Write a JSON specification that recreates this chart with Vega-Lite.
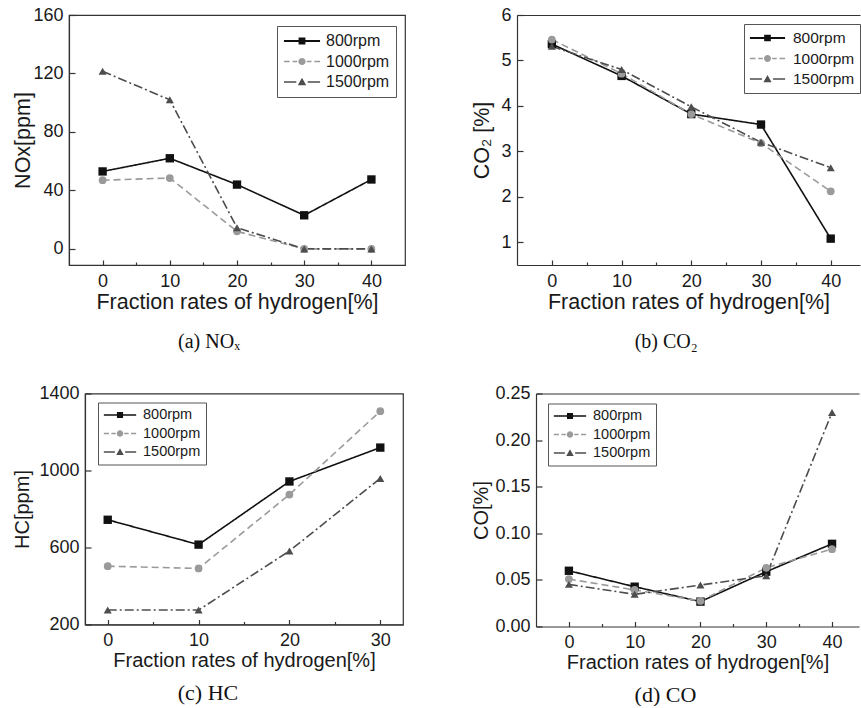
{
  "$schema": "https://vega.github.io/schema/vega-lite/v6.json",
  "padding": {"left": 11, "top": 5, "right": 0, "bottom": 0},
  "background": "white",
  "datasets": {
    "nox": [
      {"h": 0, "v": 53, "rpm": "800rpm"}, {"h": 10, "v": 62, "rpm": "800rpm"}, {"h": 20, "v": 44, "rpm": "800rpm"}, {"h": 30, "v": 23, "rpm": "800rpm"}, {"h": 40, "v": 47.5, "rpm": "800rpm"},
      {"h": 0, "v": 47, "rpm": "1000rpm"}, {"h": 10, "v": 48.5, "rpm": "1000rpm"}, {"h": 20, "v": 12, "rpm": "1000rpm"}, {"h": 30, "v": 0, "rpm": "1000rpm"}, {"h": 40, "v": 0, "rpm": "1000rpm"},
      {"h": 0, "v": 121.5, "rpm": "1500rpm"}, {"h": 10, "v": 102, "rpm": "1500rpm"}, {"h": 20, "v": 14.5, "rpm": "1500rpm"}, {"h": 30, "v": 0, "rpm": "1500rpm"}, {"h": 40, "v": 0, "rpm": "1500rpm"}
    ],
    "co2": [
      {"h": 0, "v": 5.36, "rpm": "800rpm"}, {"h": 10, "v": 4.66, "rpm": "800rpm"}, {"h": 20, "v": 3.82, "rpm": "800rpm"}, {"h": 30, "v": 3.59, "rpm": "800rpm"}, {"h": 40, "v": 1.08, "rpm": "800rpm"},
      {"h": 0, "v": 5.46, "rpm": "1000rpm"}, {"h": 10, "v": 4.71, "rpm": "1000rpm"}, {"h": 20, "v": 3.82, "rpm": "1000rpm"}, {"h": 30, "v": 3.18, "rpm": "1000rpm"}, {"h": 40, "v": 2.12, "rpm": "1000rpm"},
      {"h": 0, "v": 5.31, "rpm": "1500rpm"}, {"h": 10, "v": 4.8, "rpm": "1500rpm"}, {"h": 20, "v": 3.98, "rpm": "1500rpm"}, {"h": 30, "v": 3.2, "rpm": "1500rpm"}, {"h": 40, "v": 2.64, "rpm": "1500rpm"}
    ],
    "hc": [
      {"h": 0, "v": 744, "rpm": "800rpm"}, {"h": 10, "v": 615, "rpm": "800rpm"}, {"h": 20, "v": 943, "rpm": "800rpm"}, {"h": 30, "v": 1119, "rpm": "800rpm"},
      {"h": 0, "v": 503, "rpm": "1000rpm"}, {"h": 10, "v": 491, "rpm": "1000rpm"}, {"h": 20, "v": 875, "rpm": "1000rpm"}, {"h": 30, "v": 1308, "rpm": "1000rpm"},
      {"h": 0, "v": 275, "rpm": "1500rpm"}, {"h": 10, "v": 275, "rpm": "1500rpm"}, {"h": 20, "v": 582, "rpm": "1500rpm"}, {"h": 30, "v": 959, "rpm": "1500rpm"}
    ],
    "co": [
      {"h": 0, "v": 0.0598, "rpm": "800rpm"}, {"h": 10, "v": 0.0427, "rpm": "800rpm"}, {"h": 20, "v": 0.0267, "rpm": "800rpm"}, {"h": 30, "v": 0.0588, "rpm": "800rpm"}, {"h": 40, "v": 0.0887, "rpm": "800rpm"},
      {"h": 0, "v": 0.0509, "rpm": "1000rpm"}, {"h": 10, "v": 0.0392, "rpm": "1000rpm"}, {"h": 20, "v": 0.0274, "rpm": "1000rpm"}, {"h": 30, "v": 0.063, "rpm": "1000rpm"}, {"h": 40, "v": 0.083, "rpm": "1000rpm"},
      {"h": 0, "v": 0.0452, "rpm": "1500rpm"}, {"h": 10, "v": 0.0345, "rpm": "1500rpm"}, {"h": 20, "v": 0.0445, "rpm": "1500rpm"}, {"h": 30, "v": 0.0545, "rpm": "1500rpm"}, {"h": 40, "v": 0.2297, "rpm": "1500rpm"}
    ],
    "empty": []
  },
  "columns": 1,
  "align": "none",
  "spacing": 30.5,
  "resolve": {"scale": {"fill": "independent"}, "legend": {"fill": "independent"}},
  "concat": [
    {
      "spacing": 0,
      "resolve": {"scale": {"fill": "independent"}, "legend": {"fill": "independent"}},
      "hconcat": [
        {"width": 1, "height": 1, "data": {"name": "empty"}, "mark": {"type": "point", "opacity": 0}, "encoding": {}, "view": {"stroke": null}},
        {
          "spacing": 65,
          "resolve": {"scale": {"fill": "independent"}, "legend": {"fill": "independent"}},
          "hconcat": [
            {
              "width": 336, "height": 250,
              "data": {"name": "nox"},
              "title": {"text": "(a) NOₓ", "offset": 19, "fontSize": 20},
              "layer": [
                {
                  "mark": {"type": "line"},
                  "encoding": {
                    "x": {"field": "h", "type": "quantitative", "scale": {"domain": [-5, 45], "nice": false, "zero": false},
                      "axis": {"values": [0, 5, 10, 15, 20, 25, 30, 35, 40], "labelExpr": "datum.value % 10 === 0 ? datum.label : ''", "labelOverlap": false, "tickSize": {"condition": {"test": "datum.value % 10 === 0", "value": -5}, "value": -3}, "labelPadding": 12, "title": "Fraction rates of hydrogen[%]", "titleFontSize": 21.5, "titlePadding": -1}},
                    "y": {"field": "v", "type": "quantitative", "scale": {"domain": [-11, 160], "nice": false, "zero": false},
                      "axis": {"values": [0, 10, 20, 30, 40, 50, 60, 70, 80, 90, 100, 110, 120, 130, 140, 150, 160], "labelExpr": "datum.value % 20 === 0 ? datum.label : ''", "labelOverlap": false, "tickSize": {"condition": {"test": "datum.value % 20 === 0", "value": -6}, "value": -3}, "labelPadding": 12, "title": "NOx[ppm]", "titleFontSize": 21.5, "titlePadding": -2}},
                    "stroke": {"field": "rpm", "type": "nominal", "scale": {"range": ["#9a9a9a", "#4d4d4d", "#111111"]}, "legend": null},
                    "strokeDash": {"field": "rpm", "type": "nominal", "scale": {"range": [[7, 4], [9, 3, 2, 3], [1, 0]]}, "legend": null},
                    "strokeWidth": {"field": "rpm", "type": "nominal", "scale": {"range": [1.6, 1.6, 2]}, "legend": null}
                  }
                },
                {
                  "mark": {"type": "point", "filled": true, "opacity": 1},
                  "encoding": {
                    "x": {"field": "h", "type": "quantitative"},
                    "y": {"field": "v", "type": "quantitative"},
                    "shape": {"field": "rpm", "type": "nominal", "scale": {"range": ["circle", "triangle-up", "square"]}, "legend": null},
                    "size": {"field": "rpm", "type": "nominal", "scale": {"range": [60, 70, 49]}, "legend": null},
                    "fill": {"field": "rpm", "type": "nominal", "scale": {"domain": ["800rpm", "1000rpm", "1500rpm"], "range": ["#111111", "#9a9a9a", "#4d4d4d"]},
                      "legend": {"orient": "none", "legendX": 208, "legendY": 11, "symbolSize": 1444, "clipHeight": 18, "rowPadding": 2.5, "padding": 6, "labelFontSize": 16, "labelOffset": 5,
                        "encode": {"symbols": {"update": {"shape": {"signal": "datum.value === '800rpm' ? 'M-0.95,-0.05H0.95V0.05H-0.95Z M-0.18,-0.18H0.18V0.18H-0.18Z' : datum.value === '1000rpm' ? 'M-0.95,-0.04H-0.65V0.04H-0.95Z M-0.5,-0.04H-0.25V0.04H-0.5Z M-0.19,0A0.19,0.19 0 1,0 0.19,0A0.19,0.19 0 1,0 -0.19,0Z M0.25,-0.04H0.5V0.04H0.25Z M0.65,-0.04H0.95V0.04H0.65Z' : 'M-0.95,-0.04H-0.3V0.04H-0.95Z M-0.22,0.17L0,-0.22L0.22,0.17Z M0.3,-0.04H0.95V0.04H0.3Z'"}}}}}}
                  }
                }
              ]
            },
            {
              "width": 343, "height": 250,
              "data": {"name": "co2"},
              "title": {"text": "(b) CO₂", "offset": 19, "fontSize": 20},
              "view": {"stroke": null},
              "resolve": {"axis": {"x": "independent"}},
              "layer": [
                {
                  "mark": {"type": "line"},
                  "encoding": {
                    "x": {"field": "h", "type": "quantitative", "scale": {"domain": [-5, 44.2], "nice": false, "zero": false},
                      "axis": {"values": [0, 5, 10, 15, 20, 25, 30, 35, 40], "labelExpr": "datum.value % 10 === 0 ? datum.label : ''", "labelOverlap": false, "tickSize": {"condition": {"test": "datum.value % 10 === 0", "value": -5}, "value": -3}, "labelPadding": 12, "title": "Fraction rates of hydrogen[%]", "titleFontSize": 21.5, "titlePadding": -1}},
                    "y": {"field": "v", "type": "quantitative", "scale": {"domain": [0.5, 6], "nice": false, "zero": false},
                      "axis": {"values": [1, 1.5, 2, 2.5, 3, 3.5, 4, 4.5, 5, 5.5, 6], "labelExpr": "datum.value % 1 === 0 ? format(datum.value, 'd') : ''", "labelOverlap": false, "tickSize": {"condition": {"test": "datum.value % 1 === 0", "value": -6}, "value": -3}, "labelPadding": 12, "title": "CO₂ [%]", "titleFontSize": 21.5, "titlePadding": 7}},
                    "stroke": {"field": "rpm", "type": "nominal", "scale": {"range": ["#9a9a9a", "#4d4d4d", "#111111"]}, "legend": null},
                    "strokeDash": {"field": "rpm", "type": "nominal", "scale": {"range": [[7, 4], [9, 3, 2, 3], [1, 0]]}, "legend": null},
                    "strokeWidth": {"field": "rpm", "type": "nominal", "scale": {"range": [1.6, 1.6, 2]}, "legend": null}
                  }
                },
                {
                  "mark": {"type": "point", "filled": true, "opacity": 1},
                  "encoding": {
                    "x": {"field": "h", "type": "quantitative", "axis": {"orient": "top", "labels": false, "ticks": false, "domain": true, "title": null, "grid": false}},
                    "y": {"field": "v", "type": "quantitative"},
                    "shape": {"field": "rpm", "type": "nominal", "scale": {"range": ["circle", "triangle-up", "square"]}, "legend": null},
                    "size": {"field": "rpm", "type": "nominal", "scale": {"range": [60, 70, 49]}, "legend": null},
                    "fill": {"field": "rpm", "type": "nominal", "scale": {"domain": ["800rpm", "1000rpm", "1500rpm"], "range": ["#111111", "#9a9a9a", "#4d4d4d"]},
                      "legend": {"orient": "none", "legendX": 227, "legendY": 9, "symbolSize": 1369, "clipHeight": 18, "rowPadding": 2.5, "padding": 5, "labelFontSize": 15.5, "labelOffset": 7,
                        "encode": {"symbols": {"update": {"shape": {"signal": "datum.value === '800rpm' ? 'M-0.95,-0.05H0.95V0.05H-0.95Z M-0.18,-0.18H0.18V0.18H-0.18Z' : datum.value === '1000rpm' ? 'M-0.95,-0.04H-0.65V0.04H-0.95Z M-0.5,-0.04H-0.25V0.04H-0.5Z M-0.19,0A0.19,0.19 0 1,0 0.19,0A0.19,0.19 0 1,0 -0.19,0Z M0.25,-0.04H0.5V0.04H0.25Z M0.65,-0.04H0.95V0.04H0.65Z' : 'M-0.95,-0.04H-0.3V0.04H-0.95Z M-0.22,0.17L0,-0.22L0.22,0.17Z M0.3,-0.04H0.95V0.04H0.3Z'"}}}}}}
                  }
                }
              ]
            }
          ]
        }
      ]
    },
    {
      "spacing": 0,
      "resolve": {"scale": {"fill": "independent"}, "legend": {"fill": "independent"}},
      "hconcat": [
        {"width": 1, "height": 1, "data": {"name": "empty"}, "mark": {"type": "point", "opacity": 0}, "encoding": {}, "view": {"stroke": null}},
        {
          "spacing": 67,
          "resolve": {"scale": {"fill": "independent"}, "legend": {"fill": "independent"}},
          "hconcat": [
            {
              "width": 318, "height": 231,
              "data": {"name": "hc"},
              "title": {"text": "(c) HC", "offset": 12.5, "fontSize": 22},
              "layer": [
                {
                  "mark": {"type": "line"},
                  "encoding": {
                    "x": {"field": "h", "type": "quantitative", "scale": {"domain": [-2.5, 32.5], "nice": false, "zero": false},
                      "axis": {"values": [0, 5, 10, 15, 20, 25, 30], "labelExpr": "datum.value % 10 === 0 ? datum.label : ''", "labelOverlap": false, "tickSize": {"condition": {"test": "datum.value % 10 === 0", "value": -5}, "value": -3}, "labelPadding": 12, "title": "Fraction rates of hydrogen[%]", "titleFontSize": 20, "titlePadding": -1}},
                    "y": {"field": "v", "type": "quantitative", "scale": {"domain": [200, 1400], "nice": false, "zero": false},
                      "axis": {"values": [200, 300, 400, 500, 600, 700, 800, 900, 1000, 1100, 1200, 1300, 1400], "labelExpr": "datum.value % 200 === 0 ? format(datum.value, 'd') : ''", "labelOverlap": false, "tickSize": {"condition": {"test": "datum.value % 200 === 0", "value": -6}, "value": -3}, "labelPadding": 12, "title": "HC[ppm]", "titleFontSize": 20, "titlePadding": 6}},
                    "stroke": {"field": "rpm", "type": "nominal", "scale": {"range": ["#9a9a9a", "#4d4d4d", "#111111"]}, "legend": null},
                    "strokeDash": {"field": "rpm", "type": "nominal", "scale": {"range": [[7, 4], [9, 3, 2, 3], [1, 0]]}, "legend": null},
                    "strokeWidth": {"field": "rpm", "type": "nominal", "scale": {"range": [1.6, 1.6, 2]}, "legend": null}
                  }
                },
                {
                  "mark": {"type": "point", "filled": true, "opacity": 1},
                  "encoding": {
                    "x": {"field": "h", "type": "quantitative"},
                    "y": {"field": "v", "type": "quantitative"},
                    "shape": {"field": "rpm", "type": "nominal", "scale": {"range": ["circle", "triangle-up", "square"]}, "legend": null},
                    "size": {"field": "rpm", "type": "nominal", "scale": {"range": [60, 70, 49]}, "legend": null},
                    "fill": {"field": "rpm", "type": "nominal", "scale": {"domain": ["800rpm", "1000rpm", "1500rpm"], "range": ["#111111", "#9a9a9a", "#4d4d4d"]},
                      "legend": {"orient": "none", "legendX": 13, "legendY": 9, "symbolSize": 1156, "clipHeight": 15, "rowPadding": 2.5, "padding": 5, "labelFontSize": 14.5, "labelOffset": 6,
                        "encode": {"symbols": {"update": {"shape": {"signal": "datum.value === '800rpm' ? 'M-0.95,-0.05H0.95V0.05H-0.95Z M-0.18,-0.18H0.18V0.18H-0.18Z' : datum.value === '1000rpm' ? 'M-0.95,-0.04H-0.65V0.04H-0.95Z M-0.5,-0.04H-0.25V0.04H-0.5Z M-0.19,0A0.19,0.19 0 1,0 0.19,0A0.19,0.19 0 1,0 -0.19,0Z M0.25,-0.04H0.5V0.04H0.25Z M0.65,-0.04H0.95V0.04H0.65Z' : 'M-0.95,-0.04H-0.3V0.04H-0.95Z M-0.22,0.17L0,-0.22L0.22,0.17Z M0.3,-0.04H0.95V0.04H0.3Z'"}}}}}}
                  }
                }
              ]
            },
            {
              "width": 323, "height": 233,
              "data": {"name": "co"},
              "title": {"text": "(d) CO", "offset": 12.5, "fontSize": 22},
              "view": {"stroke": null},
              "resolve": {"axis": {"x": "independent"}},
              "layer": [
                {
                  "mark": {"type": "line"},
                  "encoding": {
                    "x": {"field": "h", "type": "quantitative", "scale": {"domain": [-5, 44.1], "nice": false, "zero": false},
                      "axis": {"values": [0, 5, 10, 15, 20, 25, 30, 35, 40], "labelExpr": "datum.value % 10 === 0 ? datum.label : ''", "labelOverlap": false, "tickSize": {"condition": {"test": "datum.value % 10 === 0", "value": -5}, "value": -3}, "labelPadding": 12, "title": "Fraction rates of hydrogen[%]", "titleFontSize": 20, "titlePadding": -1}},
                    "y": {"field": "v", "type": "quantitative", "scale": {"domain": [0, 0.25], "nice": false, "zero": false},
                      "axis": {"values": [0, 0.025, 0.05, 0.075, 0.1, 0.125, 0.15, 0.175, 0.2, 0.225, 0.25], "labelExpr": "round(datum.value * 40) % 2 === 0 ? format(datum.value, '.2f') : ''", "labelOverlap": false, "tickSize": {"condition": {"test": "round(datum.value * 40) % 2 === 0", "value": -6}, "value": -3}, "labelPadding": 12, "title": "CO[%]", "titleFontSize": 20, "titlePadding": 3}},
                    "stroke": {"field": "rpm", "type": "nominal", "scale": {"range": ["#9a9a9a", "#4d4d4d", "#111111"]}, "legend": null},
                    "strokeDash": {"field": "rpm", "type": "nominal", "scale": {"range": [[7, 4], [9, 3, 2, 3], [1, 0]]}, "legend": null},
                    "strokeWidth": {"field": "rpm", "type": "nominal", "scale": {"range": [1.6, 1.6, 2]}, "legend": null}
                  }
                },
                {
                  "mark": {"type": "point", "filled": true, "opacity": 1},
                  "encoding": {
                    "x": {"field": "h", "type": "quantitative", "axis": {"orient": "top", "labels": false, "ticks": false, "domain": true, "title": null, "grid": false}},
                    "y": {"field": "v", "type": "quantitative"},
                    "shape": {"field": "rpm", "type": "nominal", "scale": {"range": ["circle", "triangle-up", "square"]}, "legend": null},
                    "size": {"field": "rpm", "type": "nominal", "scale": {"range": [60, 70, 49]}, "legend": null},
                    "fill": {"field": "rpm", "type": "nominal", "scale": {"domain": ["800rpm", "1000rpm", "1500rpm"], "range": ["#111111", "#9a9a9a", "#4d4d4d"]},
                      "legend": {"orient": "none", "legendX": 12, "legendY": 10, "symbolSize": 1156, "clipHeight": 15, "rowPadding": 2.5, "padding": 5, "labelFontSize": 14.5, "labelOffset": 6,
                        "encode": {"symbols": {"update": {"shape": {"signal": "datum.value === '800rpm' ? 'M-0.95,-0.05H0.95V0.05H-0.95Z M-0.18,-0.18H0.18V0.18H-0.18Z' : datum.value === '1000rpm' ? 'M-0.95,-0.04H-0.65V0.04H-0.95Z M-0.5,-0.04H-0.25V0.04H-0.5Z M-0.19,0A0.19,0.19 0 1,0 0.19,0A0.19,0.19 0 1,0 -0.19,0Z M0.25,-0.04H0.5V0.04H0.25Z M0.65,-0.04H0.95V0.04H0.65Z' : 'M-0.95,-0.04H-0.3V0.04H-0.95Z M-0.22,0.17L0,-0.22L0.22,0.17Z M0.3,-0.04H0.95V0.04H0.3Z'"}}}}}}
                  }
                }
              ]
            }
          ]
        }
      ]
    }
  ],
  "config": {
    "font": "Liberation Sans",
    "view": {"stroke": "#333333", "strokeWidth": 1.2},
    "axis": {
      "labelFont": "Liberation Sans", "labelFontSize": 18, "labelColor": "#1a1a1a",
      "titleFont": "Liberation Sans", "titleFontWeight": "normal", "titleColor": "#1a1a1a",
      "domainColor": "#333333", "domainWidth": 1.2, "tickColor": "#333333", "tickWidth": 1.2,
      "grid": false, "labelOverlap": false, "labelFlush": false, "labelBound": false
    },
    "legend": {
      "title": null, "labelFont": "Liberation Sans", "labelColor": "#1a1a1a",
      "strokeColor": "#555555", "fillColor": "white", "symbolStrokeWidth": 0, "symbolOpacity": 1
    },
    "title": {
      "orient": "bottom", "anchor": "middle", "frame": "bounds",
      "font": "Liberation Serif, DejaVu Serif", "fontSize": 19, "fontWeight": "normal", "color": "#111111"
    }
  }
}
